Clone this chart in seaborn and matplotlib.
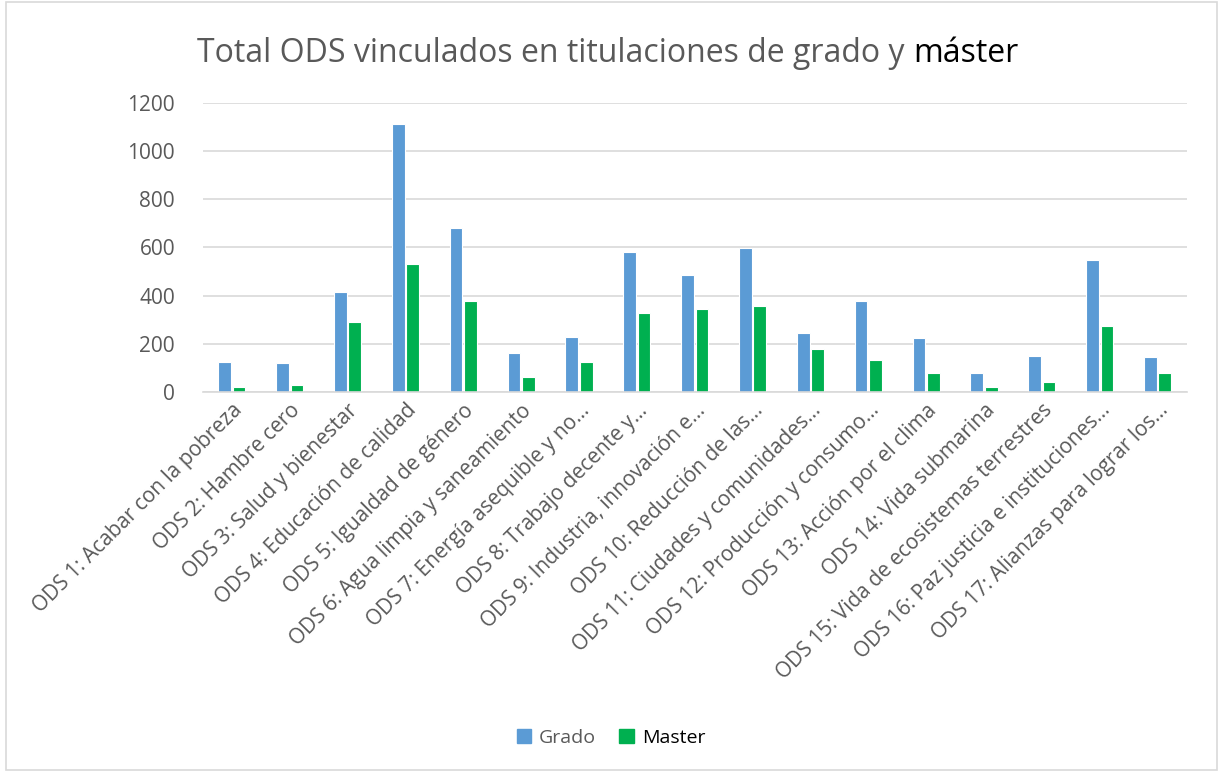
import numpy as np
import pandas as pd
import matplotlib
matplotlib.use("Agg")
import matplotlib.pyplot as plt
import matplotlib.patches as mpatches
import seaborn as sns

# data
categorias = [
    "ODS 1: Acabar con la pobreza",
    "ODS 2: Hambre cero",
    "ODS 3: Salud y bienestar",
    "ODS 4: Educación de calidad",
    "ODS 5: Igualdad de género",
    "ODS 6: Agua limpia y saneamiento",
    "ODS 7: Energía asequible y no...",
    "ODS 8: Trabajo decente y...",
    "ODS 9: Industria, innovación e...",
    "ODS 10: Reducción de las...",
    "ODS 11: Ciudades y comunidades...",
    "ODS 12: Producción y consumo...",
    "ODS 13: Acción por el clima",
    "ODS 14: Vida submarina",
    "ODS 15: Vida de ecosistemas terrestres",
    "ODS 16: Paz justicia e instituciones...",
    "ODS 17: Alianzas para lograr los...",
]
grado = [122, 118, 415, 1114, 683, 162, 226, 583, 486, 599, 246, 376, 225, 79, 150, 547, 146]
master = [18, 28, 289, 531, 379, 61, 122, 326, 343, 357, 176, 132, 76, 19, 40, 272, 76]
series = ["Grado", "Master"]
colores = ["#5B9BD5", "#00B050"]

df = pd.DataFrame({
    "ods": categorias * 2,
    "serie": ["Grado"] * len(grado) + ["Master"] * len(master),
    "valor": grado + master,
})

sns.set_style("white")
plt.rcParams["font.family"] = ["Open Sans", "DejaVu Sans"]

fig = plt.figure(figsize=(12.22, 7.73), dpi=100)
ax = fig.add_axes([0.166, 0.4933, 0.805, 0.3731])

sns.barplot(data=df, x="ods", y="valor", hue="serie", palette=colores,
            saturation=1, width=0.5, gap=0.12, edgecolor="white", linewidth=0.8,
            ax=ax, legend=False)

ax.set_ylim(0, 1200)
ax.set_yticks(range(0, 1201, 200))
ax.set_xlim(-0.5, len(categorias) - 0.5)
ax.yaxis.grid(True, color="#D9D9D9", linewidth=1.2)
ax.set_axisbelow(True)
for s in ["top", "right", "left"]:
    ax.spines[s].set_visible(False)
ax.spines["bottom"].set_color("#D9D9D9")
ax.spines["bottom"].set_linewidth(1.2)
ax.set_xlabel("")
ax.set_ylabel("")
ax.tick_params(axis="both", length=0, colors="#595959", labelsize=15)
ax.tick_params(axis="y", pad=20)
ax.tick_params(axis="x", pad=6)
ax.set_xticks(range(len(categorias)))
ax.set_xticklabels(categorias, rotation=45, ha="right", rotation_mode="anchor")

# title: grey text with last word in black
t1 = fig.text(197 / 1222, 1 - 62 / 773, "Total ODS vinculados en titulaciones de grado y ",
              fontsize=23, color="#595959", ha="left", va="baseline")
ax.annotate("máster", xy=(1, 0), xycoords=t1, fontsize=23, color="black",
            ha="left", va="bottom", annotation_clip=False)

# legend
handles = [mpatches.Patch(color=c) for c in colores]
leg = fig.legend(handles, series, loc="center", bbox_to_anchor=(0.5, 1 - 738 / 773),
                 ncol=2, frameon=False, fontsize=14, handlelength=0.75, handleheight=0.75,
                 columnspacing=1.2, handletextpad=0.4)
leg.get_texts()[0].set_color("#595959")
leg.get_texts()[1].set_color("black")

# chart border
fig.patches.append(mpatches.Rectangle((6 / 1222, 3 / 773), 1211 / 1222, 768 / 773,
                                      transform=fig.transFigure, fill=False,
                                      edgecolor="#D9D9D9", linewidth=1.2))

fig.savefig("out.png", dpi=100, facecolor="white")
